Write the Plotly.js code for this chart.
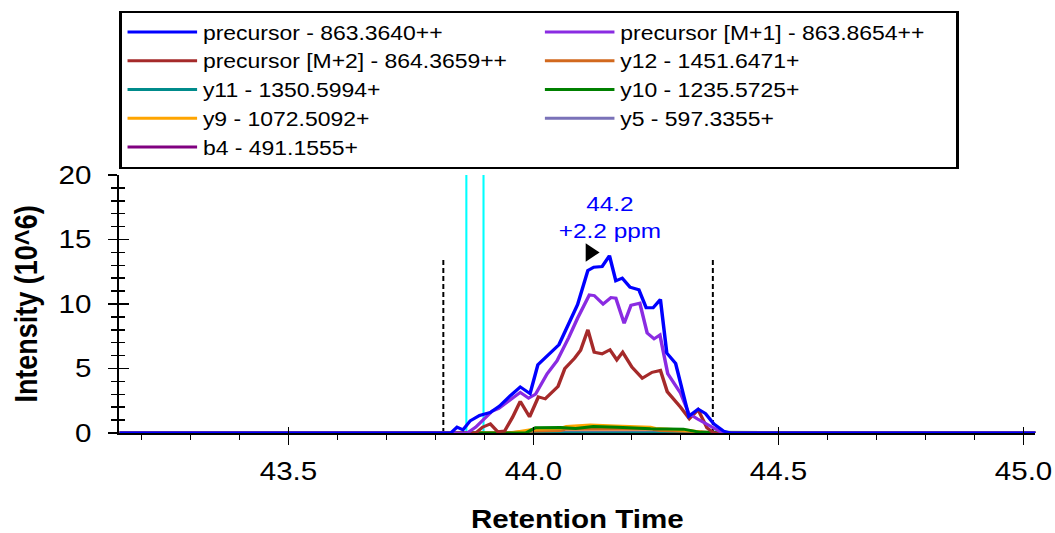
<!DOCTYPE html>
<html><head><meta charset="utf-8">
<script src="https://cdn.plot.ly/plotly-3.0.1.min.js"></script>
<style>
html,body{margin:0;padding:0;background:#fff;overflow:hidden}
/* the reference artwork is horizontally stretched; reproduce that stretch */
#chart{width:910px;height:533px;transform:scaleX(1.15934);transform-origin:0 0}
</style>
</head><body><div id="chart"></div>
<script>
// ---- data ----
const seriesNames = ["precursor - 863.3640++", "precursor [M+1] - 863.8654++", "precursor [M+2] - 864.3659++",
  "y12 - 1451.6471+", "y11 - 1350.5994+", "y10 - 1235.5725+", "y9 - 1072.5092+", "y5 - 597.3355+", "b4 - 491.1555+"];
const seriesColors = ["#0000FF", "#8A2BE2", "#A52A2A", "#D2691E", "#008B8B", "#008000", "#FFA500", "#7A72B8", "#800080"];

const rtPrecursor = [43.155, 43.831, 43.844, 43.856, 43.871, 43.890, 43.912, 43.931, 43.953, 43.973, 43.993, 44.009, 44.052, 44.067, 44.090, 44.111, 44.123, 44.140, 44.155, 44.168, 44.181, 44.197, 44.215, 44.230, 44.244, 44.259, 44.272, 44.290, 44.317, 44.336, 44.351, 44.368, 44.388, 44.402, 45.035];
const intPrecursor = [0, 0, 0.45, 0.25, 0.95, 1.36, 1.6, 2.1, 2.9, 3.57, 3.05, 5.3, 6.85, 8.1, 9.95, 12.6, 12.85, 12.9, 13.75, 11.8, 12.0, 11.3, 11.1, 9.7, 9.7, 10.35, 6.2, 5.4, 1.3, 1.85, 1.5, 0.7, 0.15, 0, 0];

const rtM1 = [43.155, 43.865, 43.882, 43.902, 43.916, 43.929, 43.973, 43.990, 44.004, 44.028, 44.048, 44.072, 44.090, 44.114, 44.124, 44.142, 44.158, 44.168, 44.185, 44.199, 44.217, 44.232, 44.246, 44.258, 44.274, 44.300, 44.317, 44.334, 44.354, 44.375, 44.386, 45.035];
const intM1 = [0, 0, 0.45, 1.2, 1.7, 1.9, 3.15, 2.7, 3.0, 4.6, 5.6, 7.4, 8.9, 10.7, 10.65, 10.0, 10.5, 10.45, 8.5, 9.9, 10.06, 7.75, 7.3, 7.6, 4.6, 3.1, 1.5, 1.1, 0.7, 0.25, 0, 0];

const rtM2 = [43.155, 43.882, 43.896, 43.912, 43.927, 43.941, 43.957, 43.973, 43.992, 44.010, 44.024, 44.050, 44.064, 44.084, 44.096, 44.111, 44.124, 44.140, 44.156, 44.170, 44.182, 44.201, 44.222, 44.242, 44.259, 44.273, 44.300, 44.318, 44.336, 44.354, 44.368, 45.035];
const intM2 = [0, 0, 0.45, 0.7, 0.1, 0.15, 1.2, 2.45, 1.25, 2.8, 2.65, 3.6, 5.0, 5.8, 6.4, 8.0, 6.26, 6.14, 6.45, 5.67, 6.26, 5.1, 4.25, 4.7, 4.85, 3.2, 2.0, 1.1, 1.8, 0.4, 0, 0];

const rtY12 = [43.155, 43.941, 44.000, 44.055, 44.067, 44.239, 44.259, 44.341, 44.371, 45.035];
const intY12 = [0, 0, 0.15, 0.2, 0.3, 0.3, 0.2, 0.1, 0, 0];
const rtY10 = [43.155, 43.984, 44.004, 44.055, 44.086, 44.122, 44.171, 44.239, 44.306, 44.341, 45.035];
const intY10 = [0, 0, 0.4, 0.42, 0.35, 0.5, 0.45, 0.32, 0.3, 0.05, 0];
const rtY9 = [43.155, 43.953, 44.000, 44.055, 44.067, 44.116, 44.167, 44.239, 44.249, 44.320, 44.351, 45.035];
const intY9 = [0, 0, 0.3, 0.35, 0.5, 0.62, 0.55, 0.45, 0.35, 0.2, 0, 0];
const rtFlat = [43.155, 45.035];
const intFlat = [0, 0];

const boundaryRT = [43.816, 44.366];
const boundaryHeight = 13.6;
const idRT = [43.863, 43.898];
const apexRT = 44.155, apexIntensity = 13.75;
const apexLabel = ["44.2", "+2.2 ppm"];
const markerRT = 44.116, markerIntensity = 14.0;

const xTickVals = [43.5, 44.0, 44.5, 45.0];
const xTickText = ["43.5", "44.0", "44.5", "45.0"];
const yTickVals = [0, 5, 10, 15, 20];

// ---- traces ----
const seriesX = [rtPrecursor, rtM1, rtM2, rtY12, rtFlat, rtY10, rtY9, rtFlat, rtFlat];
const seriesY = [intPrecursor, intM1, intM2, intY12, intFlat, intY10, intY9, intFlat, intFlat];
const drawOrder = [7, 8, 4, 3, 6, 5, 2, 1, 0];

const traces = [];
idRT.forEach(rt => traces.push({x: [rt, rt], y: [0, 20], mode: 'lines', line: {color: '#00FFFF', width: 1.8}, showlegend: false, hoverinfo: 'skip'}));
boundaryRT.forEach(rt => traces.push({x: [rt, rt], y: [0, boundaryHeight], mode: 'lines', line: {color: '#000', width: 1.7, dash: '5px,3px'}, showlegend: false, hoverinfo: 'skip'}));
drawOrder.forEach(i => traces.push({
  x: seriesX[i], y: seriesY[i], name: seriesNames[i], mode: 'lines', legendrank: i + 1,
  line: {color: seriesColors[i], width: 3}
}));
traces.push({x: [markerRT], y: [markerIntensity], mode: 'markers', marker: {symbol: 'triangle-right', size: 16, color: '#000'}, showlegend: false, cliponaxis: false});
traces.push({x: [], y: [], xaxis: 'x2', yaxis: 'y2', showlegend: false});

const font = 'Liberation Sans, Arial, sans-serif';
const layout = {
  width: 910, height: 533,
  margin: {l: 103, r: 17, t: 175, b: 100, autoexpand: false},
  paper_bgcolor: '#fff', plot_bgcolor: '#fff',
  font: {family: font, color: '#000'},
  showlegend: true,
  legend: {orientation: 'h', x: 0, xanchor: 'left', y: 1.637, yanchor: 'top',
    bordercolor: '#000', borderwidth: 2, font: {size: 19.8, family: font},
    entrywidth: 285, entrywidthmode: 'pixels', itemwidth: 60, traceorder: 'normal'},
  xaxis: {range: [43.155, 45.024], tickvals: xTickVals, ticktext: xTickText, showgrid: false, zeroline: false,
    showline: true, linecolor: '#000', linewidth: 2, ticks: 'outside', ticklen: 10, tickwidth: 1.5, tickcolor: '#000',
    tickfont: {size: 25.5}, ticklabelstandoff: 4,
    minor: {dtick: 0.1, tick0: 43.5, ticks: 'outside', ticklen: 5, tickwidth: 1.5, tickcolor: '#000', showgrid: false},
    title: {text: 'Retention Time', font: {size: 25.5, weight: 'bold'}, standoff: 36}},
  yaxis: {range: [0, 20], tickvals: yTickVals, showgrid: false, zeroline: false,
    showline: true, linecolor: '#000', linewidth: 2, ticks: 'outside', ticklen: 8, tickwidth: 1.5, tickcolor: '#000',
    tickfont: {size: 25.5}, ticklabelstandoff: 9,
    minor: {dtick: 1, ticks: 'outside', ticklen: 5, tickwidth: 1.5, tickcolor: '#000', showgrid: false},
    title: {text: 'Intensity (10^6)', font: {size: 27, weight: 'bold'}, standoff: 10.5}},
  xaxis2: {overlaying: 'x', anchor: 'y2', range: [43.155, 45.024], tickvals: xTickVals, showticklabels: false,
    showgrid: false, zeroline: false, showline: false, ticks: 'inside', ticklen: 6, tickwidth: 1.5, tickcolor: '#000'},
  yaxis2: {overlaying: 'y', anchor: 'x2', side: 'left', range: [0, 20], tickvals: yTickVals, showticklabels: false,
    showgrid: false, zeroline: false, showline: false, ticks: 'inside', ticklen: 8, tickwidth: 1.5, tickcolor: '#000',
    minor: {dtick: 1, ticks: 'inside', ticklen: 5, tickwidth: 1.5, tickcolor: '#000', showgrid: false}},
  annotations: [{x: apexRT, y: apexIntensity, xref: 'x', yref: 'y', text: apexLabel.join('<br>'), showarrow: false,
    xanchor: 'center', yanchor: 'bottom', yshift: 12, font: {size: 21, color: '#0000FF', family: font}}]
};
Plotly.newPlot('chart', traces, layout, {staticPlot: true, displayModeBar: false});
</script></body></html>
